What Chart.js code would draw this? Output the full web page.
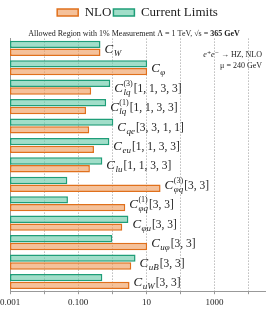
<!DOCTYPE html>
<html>
<head>
<meta charset="utf-8">
<script src="https://cdn.jsdelivr.net/npm/chart.js@4.4.0/dist/chart.umd.min.js"></script>
<style>
  body { margin: 0; background: #fff; }
  #box { width: 266px; height: 311px; }
</style>
</head>
<body>
<div id="box"><canvas id="limits"></canvas></div>
<script>
// Coeficientes (C_sub^sup[indices])
const subs = ["W", "φ", "lq", "lq", "qe", "eu", "lu", "φq", "φq", "φu", "uφ", "uB", "uW"];
const sups = ["", "", "(3)", "(1)", "", "", "", "(3)", "(1)", "", "", "", ""];
const indices = ["", "", "[1, 1, 3, 3]", "[1, 1, 3, 3]", "[3, 3, 1, 1]", "[1, 1, 3, 3]", "[1, 1, 3, 3]",
  "[3, 3]", "[3, 3]", "[3, 3]", "[3, 3]", "[3, 3]", "[3, 3]"];
const categories = subs.map((s, i) => "C_" + s + sups[i] + indices[i]);

// Limites
const currentLimits = [0.45, 10.5, 0.87, 0.66, 1.07, 0.82, 0.51, 0.048, 0.05, 2.96, 1.0, 4.8, 0.51];
const nlo = [0.45, 10.5, 0.24, 0.17, 0.21, 0.29, 0.22, 26, 2.4, 1.96, 10.5, 3.6, 3.2];

// Ticks do eixo x
const decades = [0.001, 0.01, 0.1, 1, 10, 100, 1000, 10000];
const tickLabels = { 0.001: "0.001", 0.1: "0.100", 10: "10", 1000: "1000" };

const serif = '"Liberation Serif", "DejaVu Serif", serif';

function drawCoef(ctx, x, y, i) {
  ctx.fillStyle = "#222";
  ctx.textAlign = "left";
  ctx.textBaseline = "alphabetic";
  ctx.font = "italic 13px " + serif;
  ctx.fillText("C", x, y + 4.5);
  x += ctx.measureText("C").width + 0.5;
  ctx.font = "italic 9px " + serif;
  ctx.fillText(subs[i], x, y + 7.5);
  let w = ctx.measureText(subs[i]).width;
  if (sups[i]) {
    ctx.font = "8px " + serif;
    ctx.fillText(sups[i], x, y - 1.5);
    w = Math.max(w, ctx.measureText(sups[i]).width);
  }
  x += w + 1;
  if (indices[i]) {
    ctx.font = "11.5px " + serif;
    ctx.fillText(indices[i], x, y + 4.5);
  }
}

// Rótulos, título e anotação
const labelsPlugin = {
  id: "labelsPlugin",
  afterDatasetsDraw(chart) {
    const ctx = chart.ctx;
    const xs = chart.scales.x;
    const ys = chart.scales.y;
    ctx.save();
    categories.forEach((c, i) => {
      const end = xs.getPixelForValue(Math.max(currentLimits[i], nlo[i]));
      drawCoef(ctx, end + 4, ys.getPixelForValue(i), i);
    });

    // anotação no canto
    const r = chart.chartArea.right - 3;
    const t = chart.chartArea.top;
    ctx.textAlign = "right";
    ctx.font = "8px " + serif;
    ctx.fillText("μ = 240 GeV", r, t + 29);
    ctx.fillText("→ HZ, NLO", r, t + 18);
    const w1 = ctx.measureText("→ HZ, NLO").width;
    ctx.font = "italic 8px " + serif;
    ctx.fillText("e⁺e⁻ ", r - w1, t + 18);
    ctx.restore();
  },
  afterDraw(chart) {
    const ctx = chart.ctx;
    const tb = chart.titleBlock;
    ctx.save();
    ctx.fillStyle = "#222";
    ctx.textBaseline = "middle";
    ctx.textAlign = "left";
    const a = "Allowed Region with 1% Measurement Λ = 1 TeV, √s = ";
    const b = "365 GeV";
    ctx.font = "8px " + serif;
    const wa = ctx.measureText(a).width;
    ctx.font = "bold 8px " + serif;
    const wb = ctx.measureText(b).width;
    const x0 = 134 - (wa + wb) / 2;
    const y0 = tb.top + tb.height / 2;
    ctx.font = "8px " + serif;
    ctx.fillText(a, x0, y0);
    ctx.font = "bold 8px " + serif;
    ctx.fillText(b, x0 + wa, y0);
    ctx.restore();
  },
};

new Chart(document.getElementById("limits"), {
  type: "bar",
  data: {
    labels: categories,
    datasets: [
      {
        label: "Current Limits",
        data: currentLimits,
        backgroundColor: "rgba(110, 205, 172, 0.65)",
        borderColor: "#1f9e78",
        borderWidth: 1.5,
        borderSkipped: false,
        barPercentage: 0.95,
        categoryPercentage: 0.8,
      },
      {
        label: "NLO",
        data: nlo,
        backgroundColor: "rgba(240, 160, 100, 0.65)",
        borderColor: "#e0701c",
        borderWidth: 1.5,
        borderSkipped: false,
        barPercentage: 0.95,
        categoryPercentage: 0.8,
      },
    ],
  },
  options: {
    indexAxis: "y",
    responsive: true,
    maintainAspectRatio: false,
    animation: false,
    layout: { padding: { left: 10, right: 1, top: 4, bottom: 0 } },
    plugins: {
      legend: {
        position: "top",
        reverse: true,
        weight: 3000,
        labels: {
          font: { family: serif, size: 13 },
          color: "#222",
          boxWidth: 21,
          boxHeight: 7,
          padding: 2,
        },
      },
      title: {
        display: true,
        text: " ",
        font: { size: 8 },
        padding: { top: 0, bottom: 0 },
      },
      tooltip: { enabled: false },
    },
    scales: {
      x: {
        type: "logarithmic",
        min: 0.001,
        max: 30000,
        afterBuildTicks: (scale) => {
          scale.ticks = decades.map((v) => ({ value: v }));
        },
        afterFit: (scale) => {
          scale.paddingLeft = 0;
          scale.paddingRight = 0;
        },
        ticks: {
          autoSkip: false,
          maxRotation: 0,
          font: { family: serif, size: 9 },
          color: "#222",
          padding: 3,
          callback: (v) => tickLabels[v] || "",
        },
        grid: {
          color: "#999",
          tickLength: 3,
        },
        border: { display: true, color: "#999", dash: [1, 2] },
      },
      y: {
        afterFit: (scale) => {
          scale.width = 0;
        },
        ticks: { display: false },
        grid: { display: false },
        border: { display: true, color: "#999" },
      },
    },
  },
  plugins: [labelsPlugin],
});
</script>
</body>
</html>
